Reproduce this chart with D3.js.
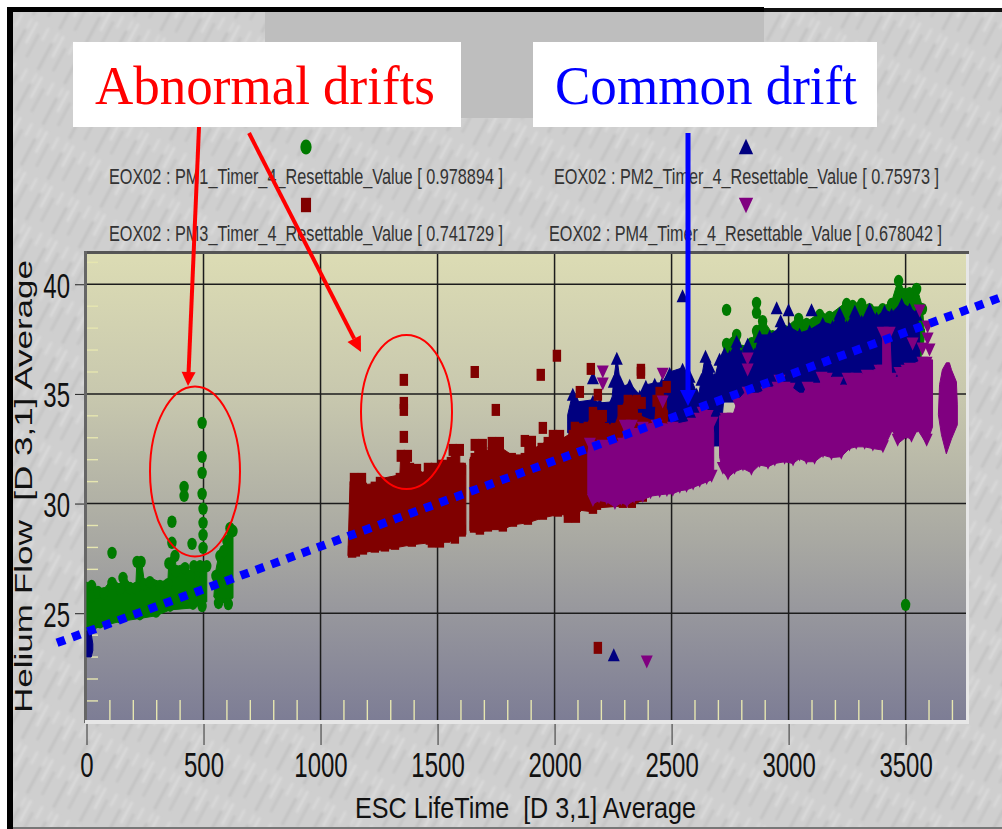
<!DOCTYPE html>
<html>
<head>
<meta charset="utf-8">
<script src="https://cdn.jsdelivr.net/npm/d3@7"></script>
<style>
  html, body { margin: 0; padding: 0; background: #fff; }
  svg { display: block; font-family: "Liberation Sans", Arial, sans-serif; }
</style>
</head>
<body>
<svg id="chart" width="1002" height="829"></svg>
<script>
const xTicks = [0, 500, 1000, 1500, 2000, 2500, 3000, 3500];
const yTicks = [25, 30, 35, 40];
const xMinor = d3.range(100, 3800, 100).filter(d => d % 500 !== 0);
const yMinor = [21, 22, 23, 24, 26, 27, 28, 29, 31, 32, 33, 34, 36, 37, 38, 39, 41];

const legendNames = [
  'EOX02 : PM1_Timer_4_Resettable_Value [ 0.978894 ]',
  'EOX02 : PM2_Timer_4_Resettable_Value [ 0.75973 ]',
  'EOX02 : PM3_Timer_4_Resettable_Value [ 0.741729 ]',
  'EOX02 : PM4_Timer_4_Resettable_Value [ 0.678042 ]'
];

// each band = outline of the dense cloud [lifetime, flow]
const pm1TopA = [[2,26.52],[23,26.07],[49,26.25],[75,26.2],[109,26.66],[143,26.39],[156,26.89],[186,26.43],[211,26.43],[216,27.62],[233,27.62],[246,26.61],[271,26.7],[314,26.52],[348,26.61],[352,27.55],[378,27.89],[382,27.21],[421,27.34],[442,26.98],[459,27.43],[480,27.21],[485,27.43],[514,27.43],[514,25.61]];
const pm1BotA = [[2,24.07],[58,24.3],[143,24.53],[228,24.67],[297,24.79],[357,25.06],[455,25.15],[514,25.43]];
const pm1TopB = [[544,25.75],[553,26.98],[570,27.89],[587,28.12],[600,28.57],[613,29.16],[626,29.03],[626,25.7]];
const pm1BotB = [[544,25.75],[561,25.52],[596,25.47],[626,25.7]];
const pm1TopC = [[2718,37.01],[2735,37.56],[2778,37.97],[2803,37.24],[2842,37.6],[2863,38.15],[2889,38.6],[2932,37.92],[2983,38.15],[3043,38.7],[3077,38.47],[3133,38.88],[3175,38.79],[3248,39.38],[3274,39.29],[3312,39.38],[3346,39.15],[3402,39.15],[3440,39.38],[3470,40.43],[3496,39.84],[3517,39.88],[3547,40.07],[3572,39.15],[3581,37.78]];
const pm1BotC = [[2718,36],[3560,36],[3581,37.78]];
const pm1Points = [[494,33.68],[494,32.13],[494,31.4],[494,30.44],[498,29.76],[498,29.12],[498,28.57],[498,27.98],[417,30.76],[417,30.35],[365,29.17],[365,28.21],[451,28.16],[109,27.75],[3500,25.38],[2735,38.83],[2863,39.15],[2863,38.7]];

const pm2TopA = [[2,24.2],[18,24.2],[27,23.6]];
const pm2BotA = [[2,23],[20,23],[27,23.3]];
const pm2TopB = [[2056,34.27],[2078,35.28],[2095,34.86],[2164,34.96],[2193,34.82],[2244,34.86],[2253,35.87],[2266,36.92],[2279,35.87],[2287,35.55],[2321,35.69],[2364,35.19],[2390,35.64],[2428,35.73],[2458,35.73],[2492,36.23],[2547,36.42],[2577,36.1],[2607,35.28],[2611,34.86],[2628,35.96],[2645,37.01],[2662,36.55],[2684,35.96],[2705,36.87],[2726,37.14],[2748,37.01],[2778,37.69],[2799,37.01],[2825,37.56],[2855,37.1],[2876,37.92],[2919,37.92],[2962,38.24],[3004,38.28],[3047,38.01],[3090,38.15],[3146,38.51],[3188,38.37],[3218,38.97],[3248,38.37],[3283,39.06],[3312,38.61],[3346,39.15],[3376,38.74],[3410,39.06],[3440,38.92],[3483,39.38],[3517,39.15],[3547,38.92],[3560,38.15]];
const pm2BotB = [[2056,33],[2400,31.5],[2685,32.4],[2705,32.4],[2722,34.4],[3560,34.4]];
const pm2Points = [[2164,35.64],[2547,39.38],[2949,38.83],[3000,38.74],[3098,38.74],[2966,38.24],[2253,23.01]];

const pm3TopA = [[1126,31.08],[1143,31.4],[1177,31.4],[1181,30.95],[1232,31],[1254,31.22],[1339,31.4],[1343,32.45],[1373,32.45],[1382,31.86],[1412,31.81],[1437,31.45],[1459,31.86],[1489,31.86],[1518,32],[1557,32.13],[1565,32.72],[1595,32.72],[1595,31.86],[1621,31.86]];
const pm3BotA = [[1117,27.53],[1151,27.58],[1181,27.67],[1232,27.76],[1275,27.81],[1318,27.89],[1390,28.03],[1467,28.12],[1476,27.99],[1510,27.99],[1535,28.21],[1574,28.17],[1574,28.44],[1621,28.49]];
const pm3TopB = [[1638,32.13],[1659,32.31],[1659,32.95],[1693,32.95],[1693,32.45],[1732,32.58],[1732,33.04],[1766,33.04],[1766,32.68],[1817,32.31],[1873,32.31],[1873,33.13],[1903,33.09],[1903,32.58],[1945,32.77],[1971,33.04],[1993,33.36],[2023,33.36],[2032,33.04],[2078,33.36],[2087,33.73],[2142,33.73],[2164,34.41],[2206,34.27],[2215,33.68],[2258,33.68],[2287,34.5],[2313,34.96],[2351,34.96],[2355,34.14],[2428,33.82],[2436,34.96],[2462,34.96],[2483,34.27]];
const pm3BotB = [[1638,28.67],[1681,28.58],[1715,28.72],[1779,28.72],[1822,28.94],[1886,29.03],[1950,29.26],[2014,29.4],[2057,29.4],[2057,29.12],[2091,29.12],[2095,29.62],[2164,29.53],[2181,29.71],[2292,29.8],[2330,29.8],[2377,30.08],[2483,30.62]];
const pm3Points = [[1356,35.64],[1356,34.59],[1356,34.27],[1356,33.04],[1659,36],[1941,35.87],[2010,36.74],[1749,34.27],[1950,33.45],[2108,35.09],[2185,34.96],[2155,36.14],[2369,36.1],[2369,35.96],[2372,34.59],[2479,35.32],[2449,35.05],[2185,23.42]];

const pm4TopA = [[2142,32.45],[2151,33],[2206,32.91],[2292,33],[2300,33.82],[2330,33.82],[2334,33.45],[2377,33.73],[2436,33.82],[2505,33.73],[2590,33.91],[2620,34.14],[2633,34.41],[2654,34.27],[2675,33.96],[2680,33.36]];
const pm4BotA = [[2142,30.31],[2164,29.85],[2190,30.0],[2223,29.94],[2258,29.71],[2285,29.9],[2309,29.8],[2340,30.0],[2377,30.03],[2410,30.2],[2449,30.26],[2480,30.3],[2505,30.31],[2535,30.45],[2564,30.49],[2592,30.6],[2620,30.72],[2650,30.85],[2671,30.95],[2680,31.4]];
const pm4TopB = [[2705,34.14],[2761,34.14],[2782,34.82],[2825,35.33],[2846,35.05],[2906,35.33],[2953,35.55],[2961,35.87],[2983,35.55],[3004,35.51],[3060,35.05],[3081,35.55],[3120,35.51],[3133,35.28],[3141,36.01],[3163,35.96],[3210,35.78],[3218,35.42],[3252,35.42],[3252,35.96],[3291,35.96],[3334,36.1],[3389,36.33],[3402,36.33],[3402,38.06],[3432,38.06],[3440,35.96],[3466,35.78],[3474,36.23],[3504,36.33],[3517,36.42],[3572,36.69],[3615,36.69]];
const pm4BotB = [[2705,32],[2719,31.31],[2741,31.05],[2769,31.31],[2805,31.46],[2841,31.27],[2876,31.62],[2912,31.54],[2941,31.69],[2983,31.77],[3019,31.69],[3047,31.92],[3076,31.77],[3111,31.77],[3147,32.07],[3183,31.96],[3225,32],[3260,32.37],[3289,32.45],[3325,32.45],[3360,32.37],[3403,32.3],[3444,33.23],[3466,32.59],[3504,32.91],[3525,32.77],[3551,33.23],[3590,32.59],[3615,33.36]];
const pm4TopC = [[3645,35.42],[3657,36.1],[3674,36.42],[3687,36.42],[3696,36.1],[3717,35.55],[3721,34.5]];
const pm4BotC = [[3640,34.05],[3653,33.14],[3674,32.27],[3696,32.95],[3721,33.59]];
const pm4Points = [[2206,36.1],[2206,35.55],[2462,36],[2462,34.73],[2825,36.69],[2825,36.19],[3560,38.88],[3594,38.15],[3594,37.6],[3530,37.37],[3602,37.1],[3572,37.15],[2394,22.87]];

const commonDrift = [[-126,23.65],[3901,39.38]];

const green = '#007a00', navy = '#000080', maroon = '#800000', purple = '#800080';

const svg = d3.select('#chart');
const defs = svg.append('defs');

const x = d3.scaleLinear().domain([0, 3758]).range([86.5, 966]);
const y = d3.scaleLinear().domain([20.13, 41.38]).range([720, 254]);

// paper texture
const blur = defs.append('filter').attr('id', 'soft').attr('filterUnits', 'userSpaceOnUse')
  .attr('x', -10).attr('y', -10).attr('width', 70).attr('height', 50);
blur.append('feGaussianBlur').attr('stdDeviation', 1);
const tex = defs.append('pattern').attr('id', 'paper').attr('patternUnits', 'userSpaceOnUse')
  .attr('width', 46).attr('height', 30).attr('patternTransform', 'rotate(-62)');
tex.append('rect').attr('width', 46).attr('height', 30).attr('fill', '#cfcfcf');
[[2, 5, 30, '#c0c0c0'], [20, 12, 24, '#dcdcdc'], [8, 19, 26, '#c3c3c3'], [30, 25, 14, '#dadada'], [34, 6, 10, '#d8d8d8']].forEach(s => {
  tex.append('rect').attr('x', s[0]).attr('y', s[1]).attr('width', s[2]).attr('height', 2.4)
    .attr('fill', s[3]).attr('filter', 'url(#soft)');
});

const grad = defs.append('linearGradient').attr('id', 'plotFill').attr('x1', 0).attr('x2', 0).attr('y1', 0).attr('y2', 1);
grad.append('stop').attr('offset', '0%').attr('stop-color', '#dcdcb4');
grad.append('stop').attr('offset', '30%').attr('stop-color', '#c8c8ae');
grad.append('stop').attr('offset', '62%').attr('stop-color', '#a8a8a2');
grad.append('stop').attr('offset', '100%').attr('stop-color', '#7d7d95');

// page frame
svg.append('rect').attr('x', 8).attr('y', 8).attr('width', 994).attr('height', 821).attr('fill', 'url(#paper)');
svg.append('rect').attr('x', 265).attr('y', 12).attr('width', 499).attr('height', 106).attr('fill', '#bebebe');
svg.append('rect').attr('x', 7).attr('y', 7).attr('width', 757).attr('height', 5).attr('fill', '#000');
svg.append('rect').attr('x', 764).attr('y', 8).attr('width', 238).attr('height', 4).attr('fill', '#111');
svg.append('rect').attr('x', 7).attr('y', 7).attr('width', 6).attr('height', 822).attr('fill', '#000');
svg.append('rect').attr('x', 13).attr('y', 827).attr('width', 989).attr('height', 2).attr('fill', '#777');

// legend
const legendRow = [
  { sym: 'circle', fill: green, sx: 306, sy: 147, tx: 109, ty: 184, len: 394, name: legendNames[0] },
  { sym: 'up', fill: navy, sx: 746, sy: 149, tx: 554, ty: 184, len: 385, name: legendNames[1] },
  { sym: 'square', fill: maroon, sx: 306, sy: 205, tx: 109, ty: 241, len: 394, name: legendNames[2] },
  { sym: 'down', fill: purple, sx: 746, sy: 203, tx: 549, ty: 241, len: 393, name: legendNames[3] }
];

function drawMarker(g, kind, fill, px, py, k) {
  if (kind === 'circle') {
    g.append('ellipse').attr('cx', px).attr('cy', py).attr('rx', 4.7 * k).attr('ry', 6.2 * k).attr('fill', fill);
  } else if (kind === 'square') {
    g.append('rect').attr('x', px - 4.2 * k).attr('y', py - 6 * k).attr('width', 8.4 * k).attr('height', 12 * k).attr('fill', fill);
  } else {
    const flip = kind === 'down' ? -1 : 1;
    g.append('path').attr('d', d3.symbol().type(d3.symbolTriangle).size(62))
      .attr('transform', `translate(${px},${py}) scale(${k},${flip * 1.25 * k})`).attr('fill', fill);
  }
}

const legend = svg.append('g');
legendRow.forEach(d => {
  drawMarker(legend, d.sym, d.fill, d.sx, d.sy, 1.2);
  legend.append('text').attr('transform', `translate(${d.tx},${d.ty}) scale(1,1.4)`)
    .attr('font-size', 16).attr('fill', '#333')
    .attr('textLength', d.len).attr('lengthAdjust', 'spacingAndGlyphs').text(d.name);
});

// plot area
svg.append('rect').attr('x', 86).attr('y', 254).attr('width', 880).attr('height', 466).attr('fill', 'url(#plotFill)');

const minor = svg.append('g').attr('stroke', '#e6e6b0').attr('stroke-width', 1.4);
minor.selectAll('.mx').data(xMinor).join('line')
  .attr('x1', d => x(d)).attr('x2', d => x(d)).attr('y1', 700).attr('y2', 720);
minor.selectAll('.my').data(yMinor).join('line')
  .attr('x1', 87).attr('x2', 98).attr('y1', d => y(d)).attr('y2', d => y(d));

const grid = svg.append('g').attr('stroke', '#1c1c1c').attr('stroke-width', 1.5);
grid.selectAll('.gx').data(xTicks.slice(1)).join('line')
  .attr('x1', d => x(d)).attr('x2', d => x(d)).attr('y1', 254).attr('y2', 720);
grid.selectAll('.gy').data(yTicks).join('line')
  .attr('x1', 86).attr('x2', 966).attr('y1', d => y(d)).attr('y2', d => y(d));

// axes
const xAxis = svg.append('g').attr('transform', 'translate(0,720)')
  .call(d3.axisBottom(x).tickValues(xTicks).tickSize(25).tickSizeOuter(0).tickFormat(d3.format('d')));
xAxis.select('.domain').remove();
xAxis.selectAll('line').attr('stroke', '#333');
xAxis.selectAll('text').attr('y', 0).attr('dy', 0).attr('font-size', 24).attr('fill', '#111')
  .attr('font-family', '"Liberation Sans", Arial, sans-serif')
  .attr('transform', 'translate(0,57) scale(1,1.5)');

const yAxis = svg.append('g').attr('transform', 'translate(86,0)')
  .call(d3.axisLeft(y).tickValues(yTicks).tickSize(11).tickSizeOuter(0));
yAxis.select('.domain').remove();
yAxis.selectAll('line').attr('stroke', '#222');
yAxis.selectAll('text').attr('x', 0).attr('dy', 0).attr('font-size', 24).attr('fill', '#111')
  .attr('font-family', '"Liberation Sans", Arial, sans-serif')
  .attr('transform', 'translate(-16,13) scale(1,1.5)');

// frame bands round the plot
svg.append('rect').attr('x', 84).attr('y', 251).attr('width', 885).attr('height', 3).attr('fill', '#555');
svg.append('rect').attr('x', 84).attr('y', 251).attr('width', 3).attr('height', 472).attr('fill', '#666');
svg.append('rect').attr('x', 85).attr('y', 720).attr('width', 884).attr('height', 4).attr('fill', '#e6e6e6');
svg.append('rect').attr('x', 966).attr('y', 254).attr('width', 3).attr('height', 470).attr('fill', '#e6e6e6');

svg.append('text').attr('transform', 'translate(355,818) scale(1,1.35)').attr('font-size', 22).attr('fill', '#111')
  .attr('textLength', 341).attr('lengthAdjust', 'spacingAndGlyphs').attr('xml:space', 'preserve')
  .text('ESC LifeTime  [D 3,1] Average');
svg.append('text').attr('transform', 'translate(32,713) rotate(-90)').attr('font-size', 23).attr('fill', '#111')
  .attr('textLength', 453).attr('lengthAdjust', 'spacingAndGlyphs').attr('xml:space', 'preserve')
  .text('Helium Flow  [D 3,1] Average');

// data clouds: outline pulled in a little, markers sit on the outline vertices
const outline = d3.line().x(d => x(d[0])).y(d => y(d[1]));
const marks = svg.append('g');

// how far a marker's centre sits from its top / bottom edge
const reach = {
  circle: { top: 6.2, bottom: 6.2, half: 4.7 },
  square: { top: 6, bottom: 6, half: 4.2 },
  up: { top: 8.6, bottom: 4.3, half: 6 },
  down: { top: 4.3, bottom: 8.6, half: 6 }
};

function band(top, bottom, fill, inset) {
  const pts = top.map(d => [x(d[0]), y(d[1]) + inset])
    .concat(bottom.slice().reverse().map(d => [x(d[0]), y(d[1]) - inset]));
  marks.append('path').attr('d', d3.line()(pts) + 'Z')
    .attr('fill', fill).attr('stroke', fill).attr('stroke-width', 1).attr('stroke-linejoin', 'round');
}
function edge(data, kind, fill, side) {
  const r = reach[kind];
  data.forEach((d, i) => {
    let px = x(d[0]);
    if (i === 0) px += r.half;
    if (i === data.length - 1) px -= r.half;
    const py = side === 'top' ? y(d[1]) + r.top : y(d[1]) - r.bottom;
    drawMarker(marks, kind, fill, px, py, 1);
  });
}
function points(data, kind, fill) {
  data.forEach(d => drawMarker(marks, kind, fill, x(d[0]), y(d[1]), 1));
}

band(pm1TopA, pm1BotA, green, 2);
edge(pm1TopA, 'circle', green, 'top');
edge(pm1BotA, 'circle', green, 'bottom');
band(pm1TopB, pm1BotB, green, 0);
edge(pm1TopB, 'circle', green, 'top');
band(pm1TopC, pm1BotC, green, 4);
edge(pm1TopC, 'circle', green, 'top');
points(pm1Points, 'circle', green);

band(pm2TopA, pm2BotA, navy, 0);
band(pm2TopB, pm2BotB, navy, 5);
edge(pm2TopB, 'up', navy, 'top');
points(pm2Points, 'up', navy);

band(pm3TopA, pm3BotA, maroon, 2);
edge(pm3TopA, 'square', maroon, 'top');
edge(pm3BotA, 'square', maroon, 'bottom');
band(pm3TopB, pm3BotB, maroon, 2);
edge(pm3TopB, 'square', maroon, 'top');
edge(pm3BotB, 'square', maroon, 'bottom');
points(pm3Points, 'square', maroon);

band(pm4TopA, pm4BotA, purple, 3);
edge(pm4TopA, 'down', purple, 'top');
edge(pm4BotA, 'down', purple, 'bottom');
band(pm4TopB, pm4BotB, purple, 3);
edge(pm4TopB, 'down', purple, 'top');
edge(pm4BotB, 'down', purple, 'bottom');
band(pm4TopC, pm4BotC, purple, 0);
points(pm4Points, 'down', purple);

// annotations
const notes = svg.append('g');
notes.append('ellipse').attr('cx', 195).attr('cy', 471.5).attr('rx', 45).attr('ry', 85)
  .attr('fill', 'none').attr('stroke', '#ff0000').attr('stroke-width', 2);
notes.append('ellipse').attr('cx', 406.5).attr('cy', 412).attr('rx', 45.5).attr('ry', 77)
  .attr('fill', 'none').attr('stroke', '#ff0000').attr('stroke-width', 2);

function arrow(x1, y1, x2, y2, color, w, head, half) {
  const a = Math.atan2(y2 - y1, x2 - x1);
  const bx = x2 - head * Math.cos(a), by = y2 - head * Math.sin(a);
  notes.append('line').attr('x1', x1).attr('y1', y1).attr('x2', bx).attr('y2', by)
    .attr('stroke', color).attr('stroke-width', w);
  notes.append('path').attr('fill', color).attr('d', d3.line()([
    [x2, y2],
    [bx - half * Math.sin(a), by + half * Math.cos(a)],
    [bx + half * Math.sin(a), by - half * Math.cos(a)]
  ]) + 'Z');
}
arrow(199, 127, 188, 386, '#ff0000', 4, 14, 7);
arrow(249, 133, 361, 352, '#ff0000', 4, 15, 7.5);
arrow(688, 133, 688, 406, '#0000ff', 5, 16, 8);

notes.append('path').attr('d', outline(commonDrift))
  .attr('fill', 'none').attr('stroke', '#0000ff').attr('stroke-width', 8.5)
  .attr('stroke-dasharray', '8.5 7.8');

notes.append('rect').attr('x', 73).attr('y', 42).attr('width', 388).attr('height', 85).attr('fill', '#fff');
notes.append('rect').attr('x', 533).attr('y', 42).attr('width', 344).attr('height', 85).attr('fill', '#fff');
notes.append('text').attr('x', 95).attr('y', 104).attr('font-size', 54).attr('fill', '#ff0000')
  .attr('font-family', '"Liberation Serif", "Times New Roman", serif')
  .attr('textLength', 340).attr('lengthAdjust', 'spacingAndGlyphs').text('Abnormal drifts');
notes.append('text').attr('x', 555).attr('y', 104).attr('font-size', 54).attr('fill', '#0000ff')
  .attr('font-family', '"Liberation Serif", "Times New Roman", serif')
  .attr('textLength', 302).attr('lengthAdjust', 'spacingAndGlyphs').text('Common drift');
</script>
</body>
</html>
